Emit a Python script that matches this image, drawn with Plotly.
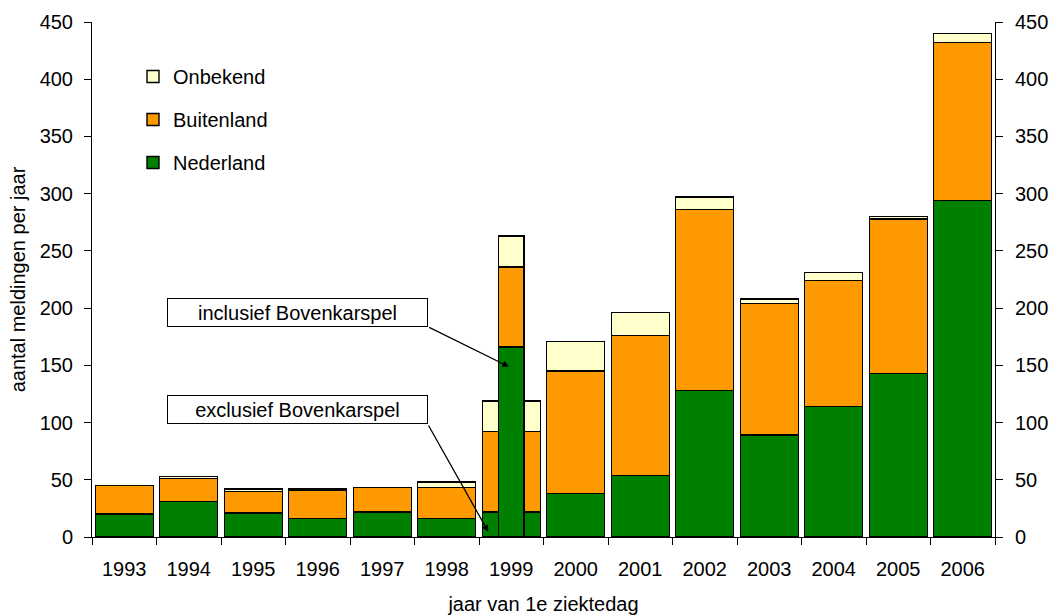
import plotly.graph_objects as go

years = ['1993', '1994', '1995', '1996', '1997', '1998', '1999',
         '2000', '2001', '2002', '2003', '2004', '2005', '2006']
# 1999 here = exclusief Bovenkarspel
nederland = [20, 31, 21, 16, 22, 16, 22, 38, 54, 128, 89, 114, 143, 294]
buitenland = [25, 20, 19, 25, 21, 27, 70, 107, 122, 158, 115, 110, 135, 138]
onbekend = [0, 2, 2, 1, 0, 5, 27, 26, 20, 11, 4, 7, 2, 8]

# 1999 inclusief Bovenkarspel
incl_year = ['1999']
incl_nederland = [166]
incl_buitenland = [70]
incl_onbekend = [27]

y_ticks = [0, 50, 100, 150, 200, 250, 300, 350, 400, 450]

GREEN = '#008000'
ORANGE = '#FF9900'
YELLOW = '#FFFFCC'
FONT = 'Liberation Sans, Arial, sans-serif'
FS = 20

fig = go.Figure()
series = [('Nederland', nederland, incl_nederland, GREEN, 3),
          ('Buitenland', buitenland, incl_buitenland, ORANGE, 2),
          ('Onbekend', onbekend, incl_onbekend, YELLOW, 1)]
for name, vals, ivals, col, rank in series:
    fig.add_trace(go.Bar(x=years, y=vals, name=name, width=0.9,
                         marker=dict(color=col, line=dict(color='#000', width=1.4)),
                         legendgroup=name, legendrank=rank))
for name, vals, ivals, col, rank in series:
    fig.add_trace(go.Bar(x=incl_year, y=ivals, name=name, width=0.4,
                         marker=dict(color=col, line=dict(color='#000', width=1.4)),
                         legendgroup=name, legendrank=rank, showlegend=False,
                         xaxis='x2', yaxis='y2'))

L, R, T, B = 92, 55, 22, 78
W, H = 1050, 615
pw, ph = W - L - R, H - T - B

def px2paper(px, py):
    return (px - L) / pw, (H - B - py) / ph

axis_font = dict(family=FONT, size=FS, color='#000')

fig.update_layout(
    width=W, height=H,
    margin=dict(l=L, r=R, t=T, b=B, autoexpand=False),
    barmode='stack',
    paper_bgcolor='white', plot_bgcolor='white',
    font=axis_font,
    showlegend=True,
    legend=dict(x=px2paper(133, 0)[0], y=px2paper(0, 57)[1], xanchor='left', yanchor='top',
                traceorder='grouped', tracegroupgap=14,
                font=dict(family=FONT, size=FS, color='#000'),
                bgcolor='rgba(0,0,0,0)'),
    xaxis=dict(type='category', categoryorder='array', categoryarray=years,
               range=[-0.5, 13.5], tickson='boundaries', ticks='outside', ticklen=7,
               tickcolor='#000', showline=True, linecolor='#000', linewidth=1,
               showgrid=False, zeroline=False, tickfont=axis_font,
               ticklabelstandoff=14, automargin=False,
               title=dict(text='jaar van 1e ziektedag', font=axis_font, standoff=17)),
    xaxis2=dict(type='category', categoryorder='array', categoryarray=years,
                range=[-0.5, 13.5], overlaying='x', visible=False),
    yaxis=dict(range=[0, 450], tickvals=y_ticks, ticks='outside', ticklen=7,
               tickcolor='#000', showline=True, linecolor='#000', linewidth=1,
               showgrid=False, zeroline=False, tickfont=axis_font,
               ticklabelstandoff=7, automargin=False,
               title=dict(text='aantal meldingen per jaar', font=axis_font, standoff=8)),
    yaxis2=dict(range=[0, 450], tickvals=y_ticks, ticks='outside', ticklen=7,
                overlaying='y', side='right', anchor='x2',
                tickcolor='#000', showline=True, linecolor='#000', linewidth=1,
                showgrid=False, zeroline=False, tickfont=axis_font,
                ticklabelstandoff=8, automargin=False),
)

# text boxes
for label, cy in [('inclusief Bovenkarspel', 312.0), ('exclusief Bovenkarspel', 409.4)]:
    bx, by = px2paper(297.2, cy)
    fig.add_annotation(x=bx, y=by, xref='paper', yref='paper', text=label,
                       xanchor='center', yanchor='middle',
                       showarrow=False, width=257, height=25, borderpad=1,
                       bordercolor='#000', borderwidth=1, bgcolor='white',
                       font=dict(family=FONT, size=FS, color='#000'))

# arrows (head in data coords, tail offset in pixels)
for hx, hy, ax, ay in [(5.965, 148.8, -81.3, -40.0), (5.644, 4.6, -60.6, -107.7)]:
    fig.add_annotation(x=hx, y=hy, xref='x', yref='y', text='', showarrow=True,
                       ax=ax, ay=ay, axref='pixel', ayref='pixel',
                       arrowhead=2, arrowsize=1, arrowwidth=1.3, arrowcolor='#000',
                       standoff=0, startstandoff=0)

fig.write_html('out.html')
